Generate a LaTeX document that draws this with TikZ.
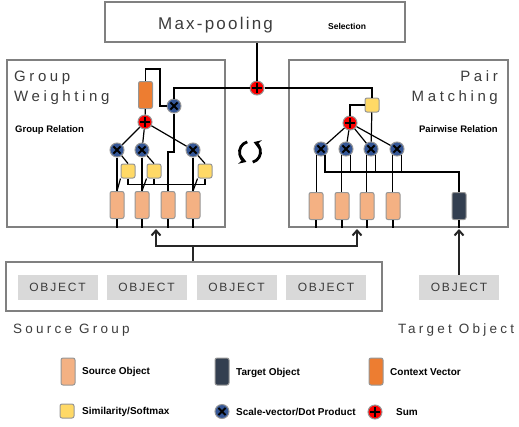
\documentclass[tikz,border=0pt]{standalone}
\usepackage{fontspec}
\setmainfont{Liberation Sans}
\newfontfamily\poolfont[LetterSpace=13]{Liberation Sans}
\newfontfamily\widefont[LetterSpace=24]{Liberation Sans}
\newfontfamily\objfont[LetterSpace=15]{Liberation Sans}
\usetikzlibrary{positioning,arrows,arrows.meta}
\definecolor{panelgray}{RGB}{128,128,128}
\definecolor{bordergray}{RGB}{150,150,150}
\definecolor{objfill}{RGB}{217,217,217}
\definecolor{srccol}{RGB}{244,177,131}
\definecolor{tgtcol}{RGB}{51,63,80}
\definecolor{ctxcol}{RGB}{237,125,49}
\definecolor{simcol}{RGB}{255,217,102}
\definecolor{scalecol}{RGB}{52,86,150}
\definecolor{txtgray}{RGB}{60,60,60}
\tikzset{panel/.style={draw=panelgray,line width=2.6pt,inner sep=0pt},
  srcobj/.style={draw=bordergray,fill=srccol,rounded corners=2pt,minimum width=14pt,minimum height=27pt,inner sep=0pt,line width=1pt},
  tgtobj/.style={srcobj,fill=tgtcol},
  ctxvec/.style={srcobj,fill=ctxcol},
  simbox/.style={srcobj,fill=simcol,minimum height=14pt},
  scalenode/.style={circle,draw=bordergray,fill=scalecol,minimum size=14pt,inner sep=0pt,line width=1pt,
    path picture={\draw[black,line width=1.8pt] ([shift={(-3.6pt,-3.6pt)}]path picture bounding box.center) -- ([shift={(3.6pt,3.6pt)}]path picture bounding box.center)
      ([shift={(-3.6pt,3.6pt)}]path picture bounding box.center) -- ([shift={(3.6pt,-3.6pt)}]path picture bounding box.center);}},
  sumnode/.style={circle,draw=bordergray,fill=red,minimum size=14pt,inner sep=0pt,line width=1pt,
    path picture={\draw[black,line width=1.8pt] ([shift={(-5pt,0pt)}]path picture bounding box.center) -- ([shift={(5pt,0pt)}]path picture bounding box.center)
      ([shift={(0pt,-5pt)}]path picture bounding box.center) -- ([shift={(0pt,5pt)}]path picture bounding box.center);}},
  link/.style={line width=1.2pt},
  bus/.style={line width=1.8pt},
  flow/.style={line width=2pt,draw=black!85,-{Straight Barb[length=5pt,width=9pt,line width=2pt]}},
  cycle/.style={line width=2.8pt,-{Stealth[length=7pt,width=9pt]}},
  objbox/.style={fill=objfill,minimum width=80pt,minimum height=25pt,inner sep=0pt,font=\objfont\fontsize{12}{12}\selectfont,text=txtgray},
  title/.style={font=\widefont\fontsize{15}{18}\selectfont,text=txtgray,inner sep=0pt},
  caption/.style={font=\widefont\fontsize{13.5}{16}\selectfont,text=txtgray,inner sep=0pt},
  rel/.style={font=\bfseries\fontsize{9.5}{11}\selectfont,inner sep=0pt},
  lbl/.style={font=\bfseries\fontsize{10}{12}\selectfont,inner sep=0pt,anchor=west}}

\begin{document}
\begin{tikzpicture}[x=1pt,y=-1pt]
\useasboundingbox (0,0) rectangle (519,426);
\node[panel,minimum width=300pt,minimum height=40pt] (pool) at (255,22) {};
\node[anchor=base west,inner sep=0pt,text=txtgray,font=\poolfont\fontsize{17}{20}\selectfont] (pooltxt) at (158,29) {Max-pooling};
\node[rel,anchor=base west,font=\bfseries\fontsize{8.5}{10}\selectfont] (seltxt) at (328,29) {Selection};
\node[panel,minimum width=218pt,minimum height=167pt] (gw) at (116,143.5) {};
\node[panel,minimum width=219pt,minimum height=167pt] (pm) at (398.5,143.5) {};
\node[title,anchor=base west] (gwt1) at (14,81) {Group};
\node[title,anchor=base west] (gwt2) at (14,101) {Weighting};
\node[title,anchor=base east] (pmt1) at (498,81) {Pair};
\node[title,anchor=base east] (pmt2) at (498,101) {Matching};
\node[rel,anchor=base west] (gwrel) at (15,132) {Group Relation};
\node[rel,anchor=base east] (pmrel) at (498,132) {Pairwise Relation};
\node[sumnode] (topsum) at (257,88) {};
\draw[link] (topsum |- pool.south) -- (topsum);
% group weighting
\node[ctxvec] (ctx) at (145.5,95) {};
\node[sumnode] (lsum) at (145,122) {};
\node[scalenode] (lscale) at (174,106) {};
\node[scalenode] (lx1) at (117,150) {};
\node[scalenode] (lx2) at (142,150) {};
\node[scalenode] (lx3) at (193,150) {};
\node[simbox] (ls1) at (128,171) {};
\node[simbox] (ls2) at (154,171) {};
\node[simbox] (ls3) at (205,171) {};
\node[srcobj] (lo1) at (117,205) {};
\node[srcobj] (lo2) at (142,205) {};
\node[srcobj] (lo3) at (168,205) {};
\node[srcobj] (lo4) at (193,205) {};
\draw[link] (topsum) -| (lscale);
\draw[link] (ctx.north) |- (160,69) |- (lscale);
\draw[link] (ctx) -- (lsum);
\draw[link] (lsum) -- (lx1);
\draw[link] (lsum) -- (lx2);
\draw[link] (lsum) -- (lx3);
\draw[link] (lscale) -- ++(0,46) -| (lo3.north);
\draw[link] (lx1) -- (lo1);
\draw[link] (lx2) -- (lo2);
\draw[link] (lx3) -- (lo4);
\draw[link] (lx1) -- (ls1.north);
\draw[link] (lx2) -- (ls2.north);
\draw[link] (lx3) -- (ls3.north);
\draw[link] (ls1.south west) -- (lo1.north);
\draw[link] (ls2.south west) -- (lo2.north);
\draw[link] (ls3.south west) -- (lo4.north);
\draw[link] (ls1.south) -- ++(0,6) -| (ls3.south);
\draw[link] (ls2.south) -- ++(0,6);
\draw[link] (lo1.south) -- (lo1 |- gw.south);
\draw[link] (lo2.south) -- (lo2 |- gw.south);
\draw[link] (lo3.south) -- (lo3 |- gw.south);
\draw[link] (lo4.south) -- (lo4 |- gw.south);
% pair matching
\node[simbox] (rsim) at (372,105) {};
\node[sumnode] (rsum) at (350,123) {};
\node[scalenode] (rx1) at (321,149) {};
\node[scalenode] (rx2) at (346,149) {};
\node[scalenode] (rx3) at (371,149) {};
\node[scalenode] (rx4) at (397,149) {};
\node[srcobj] (ro1) at (316,206) {};
\node[srcobj] (ro2) at (342,206) {};
\node[srcobj] (ro3) at (367,206) {};
\node[srcobj] (ro4) at (393,206) {};
\node[tgtobj] (tgt) at (459,206) {};
\coordinate (rbus) at (459,172);
\draw[link] (topsum) -| (rsim);
\draw[link] (rsum) |- (rsim);
\draw[link] (rsim) -- (rx3);
\draw[link] (rsum) -- (rx1);
\draw[link] (rsum) -- (rx2);
\draw[link] (rsum) -- (rx3);
\draw[link] (rsum) -- (rx4);
\draw[link] (rx1.-125) -- (rx1.-125 |- ro1.north);
\draw[link] (rx2.-125) -- (rx2.-125 |- ro2.north);
\draw[link] (rx3.-125) -- (rx3.-125 |- ro3.north);
\draw[link] (rx4.-125) -- (rx4.-125 |- ro4.north);
\draw[bus] (rx1.-55) |- (rbus) -- (tgt.north);
\draw[link] (rx2.-55) -- (rx2.-55 |- rbus);
\draw[link] (rx3.-55) -- (rx3.-55 |- rbus);
\draw[link] (rx4.-55) -- (rx4.-55 |- rbus);
\draw[link] (ro1.south) -- (ro1 |- pm.south);
\draw[link] (ro2.south) -- (ro2 |- pm.south);
\draw[link] (ro3.south) -- (ro3 |- pm.south);
\draw[link] (ro4.south) -- (ro4 |- pm.south);
\draw[link] (tgt.south) -- (tgt |- pm.south);
% cycle
\coordinate (cyc) at (250,152);
\draw[cycle] (cyc) ++(-105:10.5) arc[start angle=-105,end angle=-250,radius=10.5];
\draw[cycle] (cyc) ++(75:10.5) arc[start angle=75,end angle=-70,radius=10.5];
% inputs
\node[panel,minimum width=376pt,minimum height=49pt] (srcgrp) at (194,286.5) {};
\node[objbox] (o1) at (57.5,287.5) {OBJECT};
\node[objbox] (o2) at (146.5,287.5) {OBJECT};
\node[objbox] (o3) at (236.5,287.5) {OBJECT};
\node[objbox] (o4) at (326,287.5) {OBJECT};
\node[objbox] (o5) at (459,287.5) {OBJECT};
\node[caption,anchor=base west] (sgtxt) at (13,333) {Source Group};
\node[caption,anchor=base west] (tgtxt) at (398,333) {Target Object};
\coordinate (fork) at (193,246);
\coordinate (gin) at (156,229);
\coordinate (pin) at (357,229);
\draw[line width=2pt,draw=black!85] (srcgrp.north -| fork) -- (fork);
\draw[flow] (fork) -| (gin);
\draw[flow] (fork) -| (pin);
\draw[flow] (o5) -- (o5 |- pin);
% legend
\node[srcobj] (lgsrc) at (68,371.5) {};
\node[lbl] (lgsrctxt) at (82,371.5) {Source Object};
\node[tgtobj] (lgtgt) at (222,371.5) {};
\node[lbl] (lgtgttxt) at (236,373) {Target Object};
\node[ctxvec] (lgctx) at (376,371.5) {};
\node[lbl] (lgctxtxt) at (390,372) {Context Vector};
\node[simbox] (lgsim) at (67,411) {};
\node[lbl] (lgsimtxt) at (82,411.5) {Similarity/Softmax};
\node[scalenode] (lgscale) at (222,411.5) {};
\node[lbl] (lgscaletxt) at (236,411.5) {Scale-vector/Dot Product};
\node[sumnode] (lgsum) at (375,412) {};
\node[lbl] (lgsumtxt) at (396,412) {Sum};
\end{tikzpicture}
\end{document}
